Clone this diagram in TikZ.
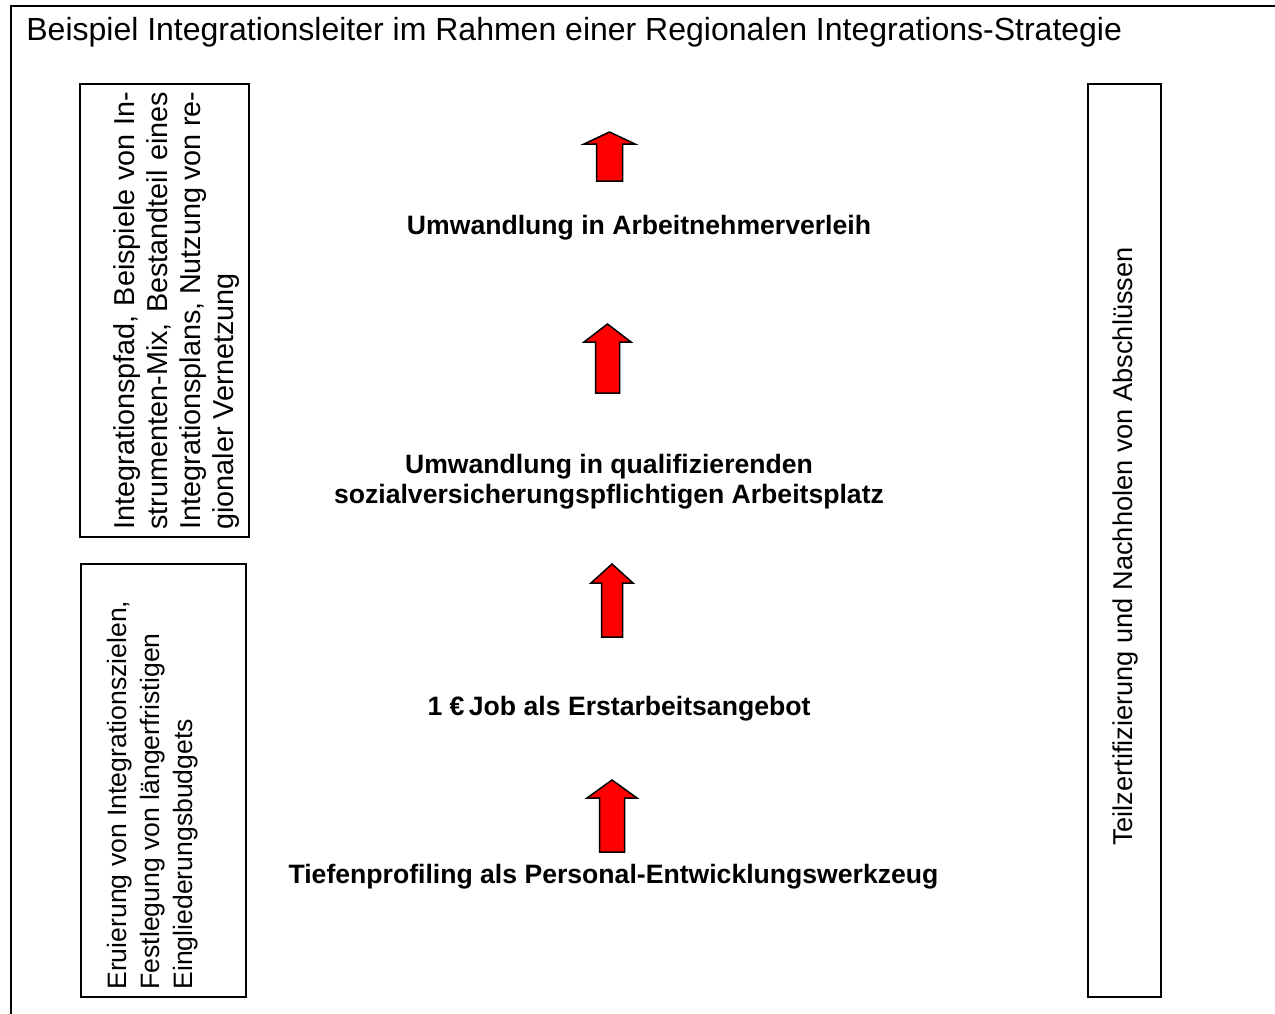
\documentclass[tikz,border=0pt]{standalone}
\usepackage{fontspec}
\setmainfont{Liberation Sans}
\usetikzlibrary{positioning}

\begin{document}
\begin{tikzpicture}[
	x=0.5pt, y=-0.5pt,
	frame/.style = {draw, line width=1pt},
	sidebox/.style = {draw, line width=1pt, rotate=90, inner sep=0pt},
	sidetext/.style = {rotate=90, inner sep=0pt,
	font=\fontsize{13.3}{16.5}\selectfont},
	rung/.style = {align=center, inner sep=0pt,
	font=\fontsize{13.3}{15}\selectfont\bfseries},
	uparrow/.style = {draw, line width=0.75pt, fill=red, line join=miter}
]
\clip (0,0) rectangle (1275,1013);
\draw[frame] (11,6) rectangle (1300,1040);
\node[anchor=base west, inner sep=0pt, font=\fontsize{16}{19}\selectfont] (titel) at (26,40)
	{Beispiel Integrationsleiter im Rahmen einer Regionalen Integrations-Strategie};

% side boxes
\node[sidebox, minimum width=226.5pt, minimum height=84.5pt] (pfadbox) at (164.5,310.5) {};
\node[sidebox, minimum width=216.5pt, minimum height=82.5pt] (zielbox) at (163.5,780.5) {};
\node[sidebox, minimum width=456.5pt, minimum height=36.5pt] (abschlussbox) at (1124.5,540.5) {};

\node[sidetext, anchor=north west, text width=219pt, align=justify,
	font=\fontsize{14.4}{16.5}\selectfont] (pfad) at (113,530)
	{\tolerance=10000\hyphenpenalty=10000 Integrationspfad, Beispiele von In-\linebreak
	strumenten-Mix, Bestandteil eines\linebreak
	Integrationsplans, Nutzung von re-\linebreak
	gionaler Vernetzung};
\node[sidetext, anchor=north west, align=left] (ziel) at (107,990)
	{Eruierung von Integrationszielen,\\
	Festlegung von längerfristigen\\
	Eingliederungsbudgets};
\node[sidetext, font=\fontsize{13.6}{16.5}\selectfont] (abschluss) at (1125,546.5)
	{Teilzertifizierung und Nachholen von Abschlüssen};

% rungs of the ladder
\node[rung] (verleih) at (639,228) {Umwandlung in Arbeitnehmerverleih};
\node[rung] (arbeitsplatz) at (609,482)
	{Umwandlung in qualifizierenden\\sozialversicherungspflichtigen Arbeitsplatz};
\node[rung] (job) at (619,709) {1 €\,Job als Erstarbeitsangebot};
\node[rung] (profil) at (613.5,877) {Tiefenprofiling als Personal-Entwicklungswerkzeug};

% block arrows: centre / tip / head base / head half width / shaft half width / bottom
\foreach \cx/\tip/\base/\hh/\sh/\bot in {
	609.5/132/144/25.5/13/181,
	607.5/324/342/23.5/12/393,
	612/564/583/21/10.5/637,
	612/780/798/25/12.5/852}
	\draw[uparrow] (\cx,\tip) -- (\cx+\hh,\base) -- (\cx+\sh,\base) -- (\cx+\sh,\bot)
		-- (\cx-\sh,\bot) -- (\cx-\sh,\base) -- (\cx-\hh,\base) -- cycle;
\end{tikzpicture}
\end{document}
